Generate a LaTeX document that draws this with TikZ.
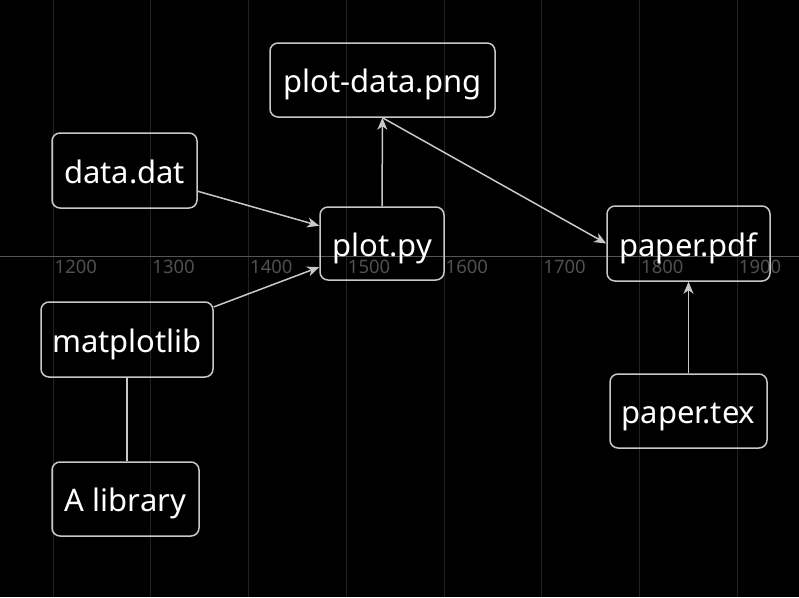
\documentclass[tikz,border=0pt]{standalone}
\usepackage{fontspec}
\setmainfont{Noto Sans}
\usetikzlibrary{arrows.meta}
\definecolor{edgegray}{HTML}{C8C8C8}
\definecolor{gridgray}{HTML}{222222}
\definecolor{axisgray}{HTML}{555555}
\definecolor{labelgray}{HTML}{505050}
\tikzset{
  filebox/.style={draw=edgegray, line width=1.5pt, rounded corners=8pt, text=white,
    font=\fontsize{31}{36}\selectfont, inner sep=0pt, text height=27pt, text depth=2pt},
  link/.style={draw=edgegray, line width=1.5pt, -{Stealth[length=12pt,width=10pt,inset=3.5pt]}},
  plainlink/.style={draw=edgegray, line width=1.5pt},
  gridline/.style={draw=gridgray, line width=1pt},
  axisline/.style={draw=axisgray, line width=1.5pt},
  ticklabel/.style={text=labelgray, font=\fontsize{18.5}{20}\selectfont, inner sep=0pt, anchor=north west}
}
\begin{document}
\begin{tikzpicture}[x=1pt,y=-1pt]
\fill[black] (0,0) rectangle (799,597);
\useasboundingbox (0,0) rectangle (799,597);
% grid
\foreach \i/\lab in {0/1200,1/1300,2/1400,3/1500,4/1600,5/1700,6/1800,7/1900}{
  \draw[gridline] ({53+97.75*\i},0) -- ({53+97.75*\i},597);
  \node[ticklabel] (t\lab) at ({54.5+97.75*\i},259.5) {\lab};
}
\coordinate (axl) at (0,256.5);
\coordinate (axr) at (799,256.5);
\draw[axisline] (axl) -- (axr);
% nodes
\node[filebox, minimum width=225pt, minimum height=74pt] (pd) at (382.5,80) {plot-data.png};
\node[filebox, minimum width=145pt, minimum height=75pt] (dd) at (124.5,170.5) {data.dat};
\node[filebox, minimum width=124pt, minimum height=73pt] (py) at (382,243.5) {plot.py};
\node[filebox, minimum width=163pt, minimum height=75pt] (pdf) at (688.5,243.5) {paper.pdf};
\node[filebox, minimum width=157pt, minimum height=74pt] (tex) at (688.5,411) {paper.tex};
\node[filebox, minimum width=172pt, minimum height=75pt] (mpl) at (127,339.5) {matplotlib};
\node[filebox, minimum width=147pt, minimum height=74pt] (lib) at (125.5,499) {A library};
% connectors
\draw[link] (dd) -- (py);
\draw[link] (mpl) -- (py);
\draw[link] (py) -- (pd);
\draw[link] (pd.south) -- (pdf.west);
\draw[link] (tex) -- (pdf);
\draw[plainlink] (mpl.south) -- (lib.north -| mpl.south);
\end{tikzpicture}
\end{document}
